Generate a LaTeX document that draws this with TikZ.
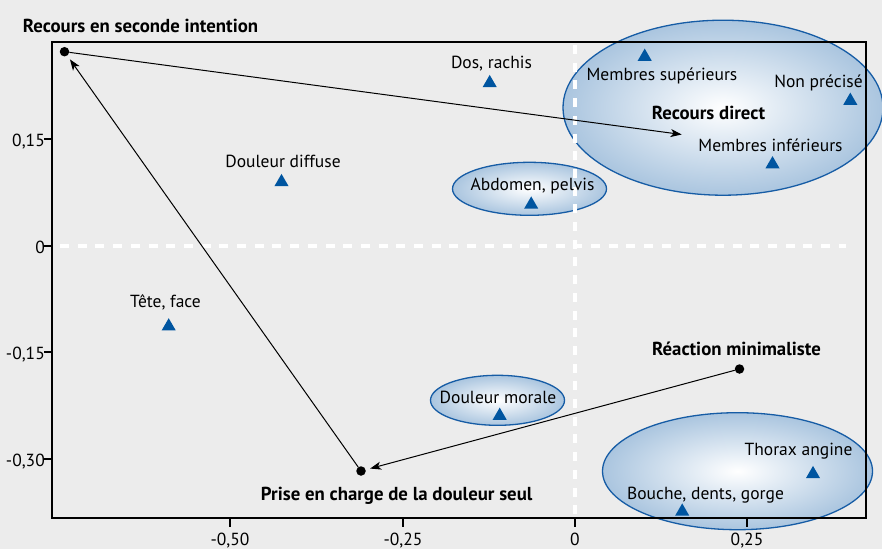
\documentclass[tikz,border=0pt]{standalone}
\usepackage{fontspec}
\setmainfont{PT Sans}
\usetikzlibrary{shapes.geometric,arrows.meta}
\definecolor{bggray}{RGB}{236,236,236}
\definecolor{markblue}{RGB}{0,85,160}
\definecolor{ellblue}{RGB}{170,197,223}
\definecolor{ellline}{RGB}{22,92,165}
\tikzset{
  lbl/.style={font=\fontsize{17.5}{20}\selectfont, inner sep=0pt, anchor=base},
  blbl/.style={lbl, font=\fontsize{18.8}{21}\selectfont\bfseries},
  tri/.style={regular polygon, regular polygon sides=3, fill=markblue, minimum size=16.2pt, inner sep=0pt},
  pdot/.style={circle, fill=black, minimum size=9.5pt, inner sep=0pt},
  group/.style={draw=ellline, line width=1.3pt, inner color=white, outer color=ellblue},
  guide/.style={white, line width=4.5pt, dash pattern=on 9pt off 8.7pt},
}

\begin{document}
\begin{tikzpicture}[x=1pt, y=-1pt, >={Stealth[length=11pt,width=8pt,inset=3pt]}]
    \useasboundingbox (0,0) rectangle (882,549);
    \fill[bggray] (0,0) rectangle (882,549);
    % groupes
    \draw[group] (723,107.7) ellipse [x radius=160pt, y radius=87.5pt];
    \draw[group] (529.5,188.8) ellipse [x radius=77pt, y radius=26.5pt];
    \draw[group] (497.5,400.3) ellipse [x radius=67pt, y radius=25pt];
    \draw[group] (737.5,471.2) ellipse [x radius=135pt, y radius=58.5pt];
    % axes
    \draw[guide] (60,246) -- (846,246);
    \draw[guide] (575,45) -- (575,518);
    \draw[line width=1.8pt] (52,42) rectangle (866,518);
    \foreach \y/\t in {139/{0,15}, 246/0, 352/{-0,15}, 459/{-0,30}} {
        \draw[line width=2.6pt] (44,\y) -- (52,\y);
        \node[lbl, anchor=base east] at (45,\y+7.5) {\t};
    }
    \foreach \x/\t in {230/{-0,50}, 403/{-0,25}, 575/0, 747/{0,25}} {
        \draw[line width=2.6pt] (\x,518) -- (\x,527);
        \node[lbl] at (\x,545.5) {\t};
    }
    % modalites
    \node[tri] (tdiffuse) at (281.5,182) {};
    \node[lbl] (ldiffuse) at (283,167.7) {Douleur diffuse};
    \node[tri] (tdos) at (489.7,83) {};
    \node[lbl] (ldos) at (491.5,68) {Dos, rachis};
    \node[tri] (tsup) at (644.7,56.7) {};
    \node[lbl] (lsup) at (662,80) {Membres supérieurs};
    \node[tri] (tnp) at (850.3,100.7) {};
    \node[lbl] (lnp) at (818.5,87) {Non précisé};
    \node[tri] (tinf) at (772.5,164.2) {};
    \node[lbl] (linf) at (770.5,151.7) {Membres inférieurs};
    \node[tri] (tabdo) at (531.2,204.5) {};
    \node[lbl] (labdo) at (532.5,190) {Abdomen, pelvis};
    \node[tri] (ttete) at (168.7,326.3) {};
    \node[lbl] (ltete) at (165.5,307.3) {Tête, face};
    \node[tri] (tmorale) at (499.7,415.7) {};
    \node[lbl] (lmorale) at (498,403.3) {Douleur morale};
    \node[tri] (tthorax) at (813,474) {};
    \node[lbl] (lthorax) at (798.5,455) {Thorax angine};
    \node[tri] (tbouche) at (682.2,511.5) {};
    \node[lbl] (lbouche) at (705.5,499.3) {Bouche, dents, gorge};
    % profils de recours
    \node[pdot] (seconde) at (64.5,51.7) {};
    \node[blbl, anchor=base west] (lseconde) at (22.7,32) {Recours en seconde intention};
    \node[pdot] (prise) at (361,471) {};
    \node[blbl] (lprise) at (396.7,500.7) {Prise en charge de la douleur seul};
    \node[pdot] (reaction) at (739.5,369) {};
    \node[blbl] (lreaction) at (736.5,355) {Réaction minimaliste};
    \node[blbl] (ldirect) at (708.5,119.3) {Recours direct};
    \coordinate (direct) at (681.7,134.5);
    \draw[->, line width=1pt] (seconde) -- (direct);
    \draw[->, line width=1pt, shorten >=4.5pt] (prise) -- (seconde);
    \draw[->, line width=1pt, shorten >=4.5pt] (reaction) -- (prise);
\end{tikzpicture}
\end{document}
